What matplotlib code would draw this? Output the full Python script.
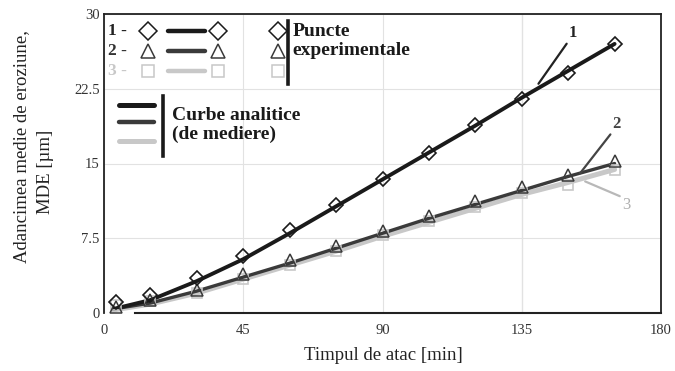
import matplotlib
matplotlib.use("Agg")
import matplotlib.pyplot as plt
from matplotlib.lines import Line2D

plt.rcParams['font.family'] = ['Liberation Serif', 'DejaVu Serif']

# ---- data ----
t_points = [4, 15, 30, 45, 60, 75, 90, 105, 120, 135, 150, 165]
mde1_points = [1.1, 1.8, 3.5, 5.7, 8.3, 10.8, 13.4, 16.1, 18.9, 21.5, 24.1, 27.0]
mde2_points = [0.6, 1.3, 2.3, 3.9, 5.3, 6.7, 8.2, 9.7, 11.2, 12.6, 13.8, 15.3]
mde3_points = [0.8, 1.2, 2.0, 3.4, 4.8, 6.2, 7.8, 9.2, 10.6, 12.0, 12.8, 14.3]

t_curve = [3, 15, 30, 45, 60, 75, 90, 105, 120, 135, 150, 165]
mde1_curve = [0.4, 1.3, 3.2, 5.4, 8.0, 10.7, 13.4, 16.1, 18.8, 21.6, 24.3, 27.0]
mde2_curve = [0.4, 1.0, 2.2, 3.6, 5.0, 6.5, 8.0, 9.5, 10.9, 12.3, 13.7, 15.0]
mde3_curve = [0.3, 0.9, 2.0, 3.4, 4.8, 6.2, 7.7, 9.1, 10.5, 11.9, 13.1, 14.4]

x_ticks = [0, 45, 90, 135, 180]
y_ticks = [0, 7.5, 15, 22.5, 30]
y_tick_labels = ['0', '7.5', '15', '22.5', '30']

c1, c2, c3 = '#1a1a1a', '#3a3a3a', '#c8c8c8'

fig = plt.figure(figsize=(6.75, 3.71), dpi=100)
ax = fig.add_axes([104/675, 58/371, 557/675, 299/371])
ax.set_xlim(0, 180)
ax.set_ylim(0, 30)

ax.grid(True, color='#e2e2e2', lw=0.8)
ax.axvline(135, color='#c4c4c4', lw=0.8, zorder=0.5)
ax.set_axisbelow(True)

# curves
ax.plot(t_curve, mde3_curve, color=c3, lw=3.6, solid_capstyle='round', zorder=2)
ax.plot(t_curve, mde2_curve, color=c2, lw=2.4, solid_capstyle='round', zorder=3)
ax.plot(t_curve, mde1_curve, color=c1, lw=2.8, solid_capstyle='round', zorder=3)

# points
ms = 7.5
ax.plot(t_points, mde3_points, ls='none', marker='s', ms=ms - 0.5, mfc='none', mec=c3, mew=1.2, zorder=4)
ax.plot(t_points, mde2_points, ls='none', marker='^', ms=ms + 0.5, mfc='none', mec=c2, mew=1.1, zorder=4)
ax.plot(t_points, mde1_points, ls='none', marker='D', ms=ms - 0.8, mfc='none', mec=c1, mew=1.2, zorder=4)

# spines
for s in ['left', 'right', 'top']:
    ax.spines[s].set_linewidth(1.3)
    ax.spines[s].set_color('#222222')
ax.spines['bottom'].set_visible(False)
ax.plot([10, 180], [0, 0], color='#222222', lw=1.5, clip_on=False, zorder=5)

ax.set_xticks(x_ticks)
ax.set_yticks(y_ticks)
ax.set_yticklabels(y_tick_labels)
ax.tick_params(length=0, labelsize=10.5, colors='#333333', pad=3)
ax.tick_params(axis='x', pad=8)

fig.text(383/675, 1 - 356/371, 'Timpul de atac [min]', ha='center', va='center',
         fontsize=13.5, color='#222222')
fig.text(22/675, 1 - 147/371, 'Adancimea medie de eroziune,', rotation=90,
         ha='center', va='center', fontsize=13.5, color='#222222')
fig.text(45/675, 1 - 172/371, 'MDE [µm]', rotation=90,
         ha='center', va='center', fontsize=13.5, color='#222222')

# annotations
ann = dict(arrowstyle='-', shrinkA=0, shrinkB=0, lw=1.6)
ax.annotate('1', xy=(140.4, 23.0), xytext=(151.5, 28.1), ha='center', va='center',
            fontsize=12, fontweight='bold', color='#222222',
            arrowprops=dict(ann, color='#222222', relpos=(0.0, 0.0)))
ax.annotate('2', xy=(153.8, 14.0), xytext=(165.7, 19.0), ha='center', va='center',
            fontsize=12, fontweight='bold', color='#444444',
            arrowprops=dict(ann, color='#444444', relpos=(0.0, 0.0)))
ax.annotate('3', xy=(155.5, 13.2), xytext=(168.9, 10.8), ha='center', va='center',
            fontsize=12, color='#b0b0b0',
            arrowprops=dict(ann, color='#b8b8b8', relpos=(0.0, 1.0)))

# custom legend (axes fraction)
T = ax.transAxes
rows = [(0.943, '1 -', c1, 'D', ms - 0.8, '#222222'),
        (0.876, '2 -', c2, '^', ms + 0.5, '#333333'),
        (0.810, '3 -', c3, 's', ms - 0.5, '#c8c8c8')]
for y, lab, col, mk, m_s, tc in rows:
    ax.text(0.007, y, lab, transform=T, ha='left', va='center', fontsize=12.5,
            fontweight='bold', color=tc)
    ax.add_line(Line2D([0.115, 0.181], [y, y], transform=T, color=col, lw=3.2,
                       solid_capstyle='round'))
    for xm in (0.079, 0.205, 0.312):
        ax.add_line(Line2D([xm], [y], transform=T, ls='none', marker=mk, ms=m_s + 2,
                           mfc='none', mec=col, mew=1.1))
ax.add_line(Line2D([0.330, 0.330], [0.975, 0.765], transform=T, color='#1a1a1a', lw=2.6))
ax.text(0.339, 0.910, 'Puncte\nexperimentale', transform=T, ha='left', va='center',
        fontsize=14, fontweight='bold', color='#1a1a1a', linespacing=1.12)

for y, col, lw in [(0.696, c1, 3.6), (0.639, c2, 3.2), (0.575, c3, 3.6)]:
    ax.add_line(Line2D([0.027, 0.090], [y, y], transform=T, color=col, lw=lw,
                       solid_capstyle='round'))
ax.add_line(Line2D([0.106, 0.106], [0.725, 0.525], transform=T, color='#1a1a1a', lw=2.6))
ax.text(0.122, 0.630, 'Curbe analitice\n(de mediere)', transform=T, ha='left', va='center',
        fontsize=14, fontweight='bold', color='#1a1a1a', linespacing=1.12)

fig.savefig('out.png', dpi=100)
